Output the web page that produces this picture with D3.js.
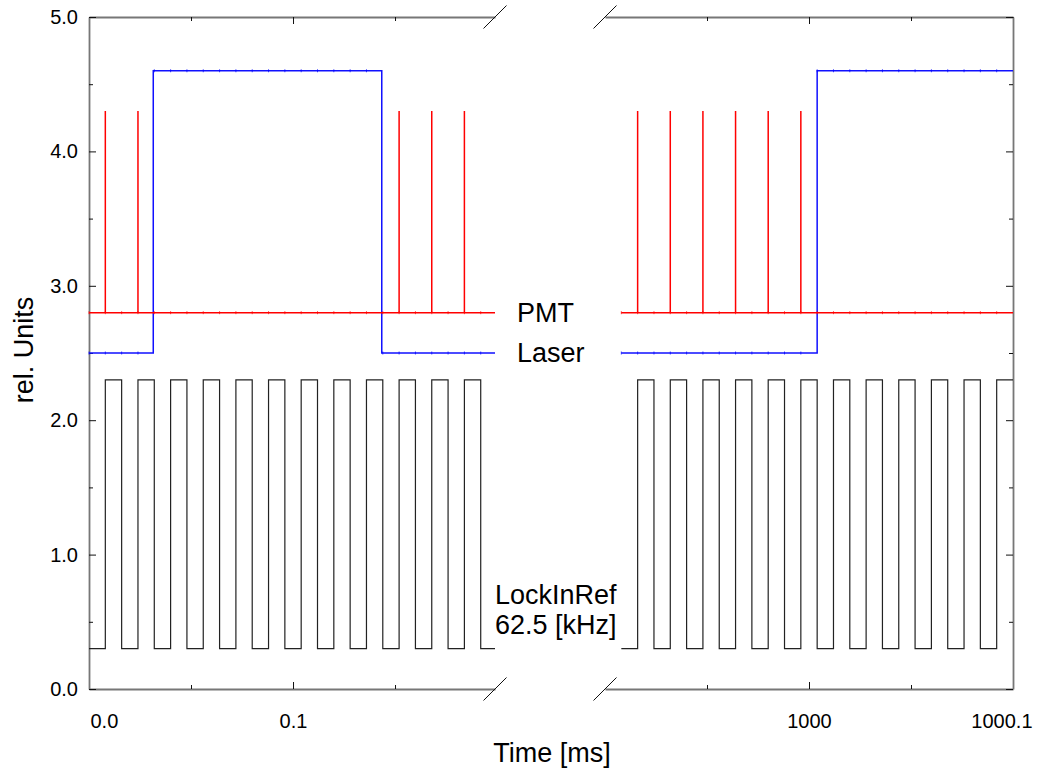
<!DOCTYPE html>
<html>
<head>
<meta charset="utf-8">
<script src="https://cdn.jsdelivr.net/npm/d3@7"></script>
<style>
  html, body { margin: 0; padding: 0; background: #fff; }
  svg { display: block; font-family: "Liberation Sans", Arial, Helvetica, sans-serif; }
  .axis .domain { stroke: #777; stroke-width: 1.8; }
  .axis .tick line { stroke: #111; stroke-width: 1; }
  .axis .tick text { font-size: 20px; fill: #000; }
  .label { font-size: 27px; fill: #000; }
</style>
</head>
<body>
<svg id="chart" width="1037" height="769"></svg>
<script>
// x range of the two halves of the broken time axis [ms]
const leftDomain = [0, 0.199];
const rightDomain = [999.9, 1000.1];
// where each trace actually has data
const leftData = [0, 0.199];
const rightData = [999.908, 1000.1];

const xMajorLeft = [0, 0.1];
const xMinorLeft = [0.05, 0.15];
const xLabelsLeft = ["0.0", "0.1"];
const xMajorRight = [1000, 1000.1];
const xMinorRight = [999.95, 1000.05];
const xLabelsRight = ["1000", "1000.1"];
const yMajor = [0, 1, 2, 3, 4, 5];
const yMinor = [0.5, 1.5, 2.5, 3.5, 4.5];

// LockInRef 62.5 kHz: levels and switching times (starts low)
const lockLevels = [0.3, 2.3];
const lockEdgesLeft = [0.008, 0.016, 0.024, 0.032, 0.040, 0.048, 0.056, 0.064, 0.072, 0.080, 0.088, 0.096,
    0.104, 0.112, 0.120, 0.128, 0.136, 0.144, 0.152, 0.160, 0.168, 0.176, 0.184, 0.192];
const lockEdgesRight = [999.916, 999.924, 999.932, 999.940, 999.948, 999.956, 999.964, 999.972, 999.980,
    999.988, 999.996, 1000.004, 1000.012, 1000.020, 1000.028, 1000.036, 1000.044, 1000.052, 1000.060,
    1000.068, 1000.076, 1000.084, 1000.092];

// Laser: levels and switching times (starts off)
const laserLevels = [2.5, 4.6];
const laserEdgesLeft = [0.0315, 0.1435];
const laserEdgesRight = [1000.004];

// PMT: baseline, peak and photon spikes
const pmtLevels = [2.8, 4.3];
const pmtSpikesLeft = [0.008, 0.024, 0.152, 0.168, 0.184];
const pmtSpikesRight = [999.916, 999.932, 999.948, 999.964, 999.980, 999.996];

const svg = d3.select("#chart");
svg.append("rect").attr("width", 1037).attr("height", 769).attr("fill", "#fff");

const plotTop = 17, plotBottom = 689, plotLeft = 89, plotRight = 1013;

const xLeft = d3.scaleLinear().domain(leftDomain).range([plotLeft, 495]);
const xRight = d3.scaleLinear().domain(rightDomain).range([605, plotRight]);
const y = d3.scaleLinear().domain([0, 5]).range([plotBottom, plotTop]);

// step trace from a start level and list of switching times
function stepPoints(extent, edges, levels) {
    const pts = [[extent[0], levels[0]]];
    let state = 0;
    edges.forEach(t => {
        pts.push([t, levels[state]]);
        state = 1 - state;
        pts.push([t, levels[state]]);
    });
    pts.push([extent[1], levels[state]]);
    return pts;
}

function spikePoints(extent, spikes, levels) {
    const pts = [[extent[0], levels[0]]];
    spikes.forEach(t => {
        pts.push([t, levels[0]], [t, levels[1]], [t, levels[0]]);
    });
    pts.push([extent[1], levels[0]]);
    return pts;
}

function levelAt(t, edges, levels) {
    return levels[edges.filter(e => e <= t).length % 2];
}

// ---- axes ----
function xAxes(scale, major, minor, labels, anchorFix) {
    // bottom
    svg.append("g").attr("class", "axis")
        .attr("transform", `translate(0,${plotBottom})`)
        .call(d3.axisBottom(scale).tickValues(minor).tickSize(-4).tickSizeOuter(0).tickFormat(""));
    const gb = svg.append("g").attr("class", "axis")
        .attr("transform", `translate(0,${plotBottom})`)
        .call(d3.axisBottom(scale).tickValues(major).tickSize(-7).tickSizeOuter(0).tickPadding(25)
            .tickFormat((d, i) => labels[i]));
    gb.select(".domain").remove();
    gb.selectAll(".tick text").attr("font-family", null).attr("font-size", null).each(anchorFix);
    // top
    svg.append("g").attr("class", "axis")
        .attr("transform", `translate(0,${plotTop})`)
        .call(d3.axisTop(scale).tickValues(minor).tickSize(-4).tickSizeOuter(0).tickFormat(""));
    svg.append("g").attr("class", "axis")
        .attr("transform", `translate(0,${plotTop})`)
        .call(d3.axisTop(scale).tickValues(major).tickSize(-7).tickSizeOuter(0).tickFormat(""))
        .select(".domain").remove();
}

xAxes(xLeft, xMajorLeft, xMinorLeft, xLabelsLeft, function(d) {
    // first label sits just inside the left axis
    if (d === 0) d3.select(this).attr("text-anchor", "start").attr("x", 1);
});
xAxes(xRight, xMajorRight, xMinorRight, xLabelsRight, function(d) {
    if (d === 1000.1) d3.select(this).attr("text-anchor", "end").attr("x", 19);
});

function yAxes(axisFn, xPos, showLabels) {
    svg.append("g").attr("class", "axis")
        .attr("transform", `translate(${xPos},0)`)
        .call(axisFn(y).tickValues(yMinor).tickSize(-4).tickSizeOuter(0).tickFormat(""));
    const g = svg.append("g").attr("class", "axis")
        .attr("transform", `translate(${xPos},0)`)
        .call(axisFn(y).tickValues(yMajor).tickSize(-7).tickSizeOuter(0).tickPadding(11)
            .tickFormat(showLabels ? d3.format(".1f") : ""));
    g.select(".domain").remove();
    g.selectAll(".tick text").attr("font-family", null).attr("font-size", null);
}
yAxes(d3.axisLeft, plotLeft, true);
yAxes(d3.axisRight, plotRight, false);

// break marks
[xLeft.range()[1], xRight.range()[0]].forEach(bx => {
    [plotTop, plotBottom].forEach(by => {
        svg.append("line")
            .attr("x1", bx - 11.5).attr("y1", by + 11.5)
            .attr("x2", bx + 11.5).attr("y2", by - 11.5)
            .attr("stroke", "#111").attr("stroke-width", 1);
    });
});

// ---- traces ----
const panels = [
    { x: xLeft, extent: leftData, lock: lockEdgesLeft, laser: laserEdgesLeft, pmt: pmtSpikesLeft },
    { x: xRight, extent: rightData, lock: lockEdgesRight, laser: laserEdgesRight, pmt: pmtSpikesRight }
];

panels.forEach(p => {
    const line = d3.line().x(d => p.x(d[0])).y(d => y(d[1]));

    svg.append("path")
        .attr("d", line(stepPoints(p.extent, p.lock, lockLevels)))
        .attr("fill", "none").attr("stroke", "#222").attr("stroke-width", 1.2);

    svg.append("path")
        .attr("d", line(stepPoints(p.extent, p.laser, laserLevels)))
        .attr("fill", "none").attr("stroke", "#1010ff").attr("stroke-width", 1.5);

    svg.append("path")
        .attr("d", line(spikePoints(p.extent, p.pmt, pmtLevels)))
        .attr("fill", "none").attr("stroke", "#ff0000").attr("stroke-width", 1.5);

    // faint sample markers on the PMT and laser traces (sampled with the lock-in clock)
    const samples = [p.extent[0]].concat(p.lock);
    const marks = svg.append("g").attr("opacity", 0.7);
    samples.forEach(t => {
        marks.append("rect")
            .attr("x", p.x(t) - 0.5).attr("y", y(levelAt(t, p.laser, laserLevels)) - 1.5)
            .attr("width", 1).attr("height", 3).attr("fill", "#0000ff");
        marks.append("rect")
            .attr("x", p.x(t) - 0.5).attr("y", y(pmtLevels[0]) - 1.5)
            .attr("width", 1).attr("height", 3).attr("fill", "#ff0000");
    });
});

// ---- labels ----
svg.append("text").attr("class", "label").attr("x", 517).attr("y", 322).text("PMT");
svg.append("text").attr("class", "label").attr("x", 517).attr("y", 362).text("Laser");
svg.append("text").attr("class", "label").attr("x", 495).attr("y", 604).text("LockInRef");
svg.append("text").attr("class", "label").attr("x", 495).attr("y", 634).text("62.5 [kHz]");

svg.append("text").attr("class", "label")
    .attr("text-anchor", "middle")
    .attr("x", 552).attr("y", 762)
    .text("Time [ms]");

svg.append("text").attr("class", "label")
    .attr("text-anchor", "middle")
    .attr("transform", "translate(33,350) rotate(-90)")
    .text("rel. Units");
</script>
</body>
</html>
